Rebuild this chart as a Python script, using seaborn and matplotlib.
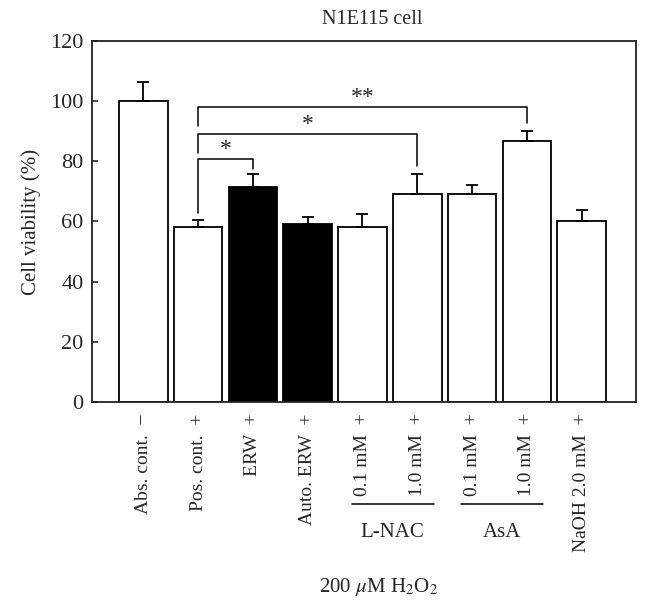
import matplotlib
matplotlib.use('Agg')
import matplotlib.pyplot as plt
import matplotlib.transforms as mtransforms
import numpy as np
import pandas as pd
import seaborn as sns

# data
groups = ['Abs. cont.', 'Pos. cont.', 'ERW', 'Auto. ERW', '0.1 mM', '1.0 mM',
          '0.1 mM', '1.0 mM', 'NaOH 2.0 mM']
h2o2 = ['\u2212', '+', '+', '+', '+', '+', '+', '+', '+']
viability = [100.0, 58.2, 71.4, 59.3, 58.2, 69.0, 69.0, 86.8, 60.2]
sd = [6.4, 2.4, 4.4, 2.1, 4.4, 6.9, 3.2, 3.3, 3.6]
fill = ['white', 'white', 'black', 'black', 'white', 'white', 'white', 'white', 'white']

# significance comparisons: (from bar, to bar, label)
comparisons = [(1, 2, '*'), (1, 5, '*'), (1, 7, '**')]
reagents = [('L-NAC', 4, 5), ('AsA', 6, 7)]

sns.set_style('ticks')
plt.rcParams['font.family'] = ['Liberation Serif', 'DejaVu Serif']
plt.rcParams['mathtext.fontset'] = 'stix'

df = pd.DataFrame({'pos': [str(i) for i in range(len(groups))],
                   'value': viability, 'fill': fill})

fig = plt.figure(figsize=(6.51, 6.11), dpi=100)
ax = fig.add_axes([0.1413, 0.3416, 0.8361, 0.5918])

sns.barplot(data=df, x='pos', y='value', hue='pos', palette=fill, legend=False,
            edgecolor='black', linewidth=1.3, width=0.885, errorbar=None, ax=ax,
            saturation=1)

xs = np.arange(len(groups))
ax.errorbar(xs, viability, yerr=[np.zeros(len(sd)), sd], fmt='none',
            ecolor='black', elinewidth=1.3, capsize=4.4, capthick=1.3, zorder=1)

ax.set_xlim(-0.936, 8.996)
ax.set_ylim(0, 120)
ax.set_yticks(range(0, 121, 20))
ax.tick_params(axis='y', direction='in', length=4.5, width=1.2, labelsize=16, pad=6)
ax.tick_params(axis='x', length=0, pad=8)
for s in ax.spines.values():
    s.set_linewidth(1.3)
    s.set_color('#222222')

ax.set_xticks(xs)
ax.set_xticklabels([f'{g}  {s}' for g, s in zip(groups, h2o2)],
                   rotation=90, fontsize=14, va='top', ha='center')
ax.set_xlabel('')
ax.set_ylabel('Cell viability (%)', fontsize=15, labelpad=7)
ax.set_title('N1E115 cell', fontsize=14.5, pad=12, x=0.515)

# significance brackets
bracket_levels = [(80.7, 62.8, 77.4, 84.0), (89.2, 82.6, 78.5, 92.2), (98.1, 91.7, 92.8, 101.2)]
for (a, b, lab), (top, la, lb, ty) in zip(comparisons, bracket_levels):
    ax.plot([a, a, b, b], [la, top, top, lb], color='black', lw=1.1)
    ax.text((a + b) / 2, ty, lab, ha='center', va='center', fontsize=17)

# reagent group lines below tick labels
trans = mtransforms.blended_transform_factory(ax.transData, ax.transAxes)
for name, a, b in reagents:
    mid = (a + b) / 2 + 0.05
    ax.plot([mid - 0.75, mid + 0.75], [-0.281, -0.281], color='black', lw=1.1,
            transform=trans, clip_on=False)
    ax.text(mid, -0.359, name, ha='center', va='center', fontsize=15, transform=trans)

ax.text(4.3, -0.51, r'200 $\mu$M H$_2$O$_2$', ha='center', va='center',
        fontsize=15, transform=trans)

fig.savefig('out.png', dpi=100)
